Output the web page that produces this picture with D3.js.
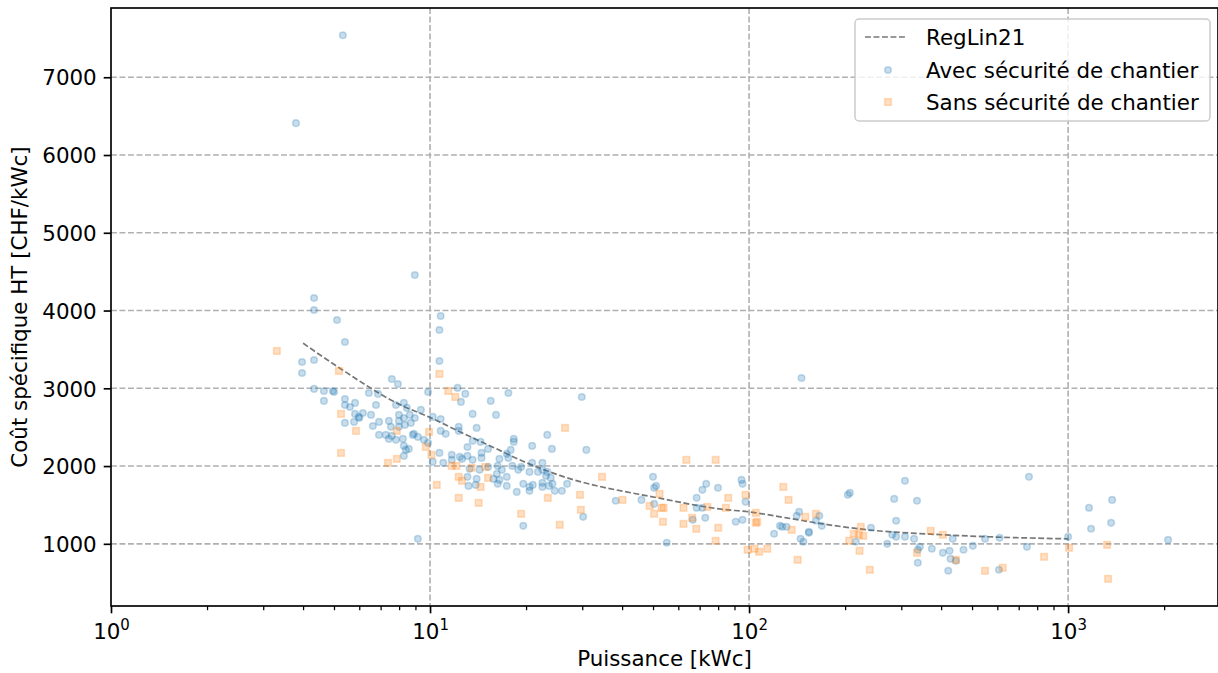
<!DOCTYPE html>
<html><head><meta charset="utf-8">
<script src="https://cdn.jsdelivr.net/npm/d3@7"></script>
<style>body{margin:0;background:#fff} svg text{font-family:"DejaVu Sans",sans-serif;fill:#000}</style>
</head><body><svg id="c" width="1218" height="673"></svg>
<script>
// Avec sécurité de chantier: [kWc, CHF/kWc]
const avecPts = [[3.8,6410],[3.97,3339],[3.97,3197],[4.33,4161],[4.33,4007],[4.33,3364],[4.33,2992],[4.65,2966],[4.65,2838],[4.96,2966],[5.0,2953],[5.11,3878],[5.33,7541],[5.41,3596],[5.41,2863],[5.41,2786],[5.41,2555],[5.61,2760],[5.82,2812],[5.82,2671],[5.98,2632],[6.16,2683],[5.78,2568],[6.0,2619],[6.43,2940],[6.53,2658],[6.62,2516],[6.77,2786],[6.87,2928],[6.92,2568],[6.92,2401],[7.27,2401],[7.43,2581],[7.43,2349],[7.54,2504],[7.59,3120],[7.59,2388],[7.82,2786],[7.82,2337],[7.93,3056],[7.99,2658],[7.99,2581],[7.99,2504],[8.28,2812],[8.28,2619],[8.34,2529],[8.22,2349],[8.28,2259],[8.40,2208],[8.58,2221],[8.28,2131],[8.46,2748],[8.64,2658],[8.71,2555],[8.83,2401],[8.9,2414],[8.96,4457],[8.96,2619],[9.16,2375],[9.16,1064],[9.36,2722],[9.57,2337],[9.86,2953],[9.86,2298],[10.2,2632],[10.2,2054],[10.8,3930],[10.7,3750],[10.7,3352],[10.8,2606],[10.8,2452],[11.2,2414],[10.7,2169],[11.0,2041],[11.7,2144],[11.7,2080],[12.2,3005],[12.9,2928],[12.5,2825],[12.3,2504],[12.3,2452],[12.4,2118],[12.6,2092],[13.1,2246],[13.1,2131],[13.1,1861],[13.2,1745],[13.3,1964],[13.6,2671],[13.6,2324],[13.6,2080],[13.9,1758],[14.0,2491],[14.0,1835],[14.3,1951],[14.4,2311],[14.5,2169],[14.5,2105],[15.2,2221],[15.2,1989],[15.5,2838],[15.8,1835],[16.1,2658],[16.2,1900],[16.3,2002],[16.3,1771],[16.5,2092],[16.5,1822],[16.8,1951],[17.4,2157],[17.4,1861],[17.4,1745],[17.6,2940],[17.6,2105],[17.9,2208],[18.1,2002],[18.3,2349],[18.3,2311],[18.7,1668],[18.9,1951],[19.3,1989],[19.6,1771],[19.6,1231],[20.5,1925],[20.5,1732],[20.5,1681],[20.9,2259],[20.9,2041],[21.0,1758],[21.8,1925],[22.5,2041],[22.5,1951],[22.5,1784],[22.5,1732],[23.1,1874],[23.3,2401],[23.3,1925],[23.6,1745],[24.1,2221],[23.9,1848],[24.2,1771],[24.6,1681],[25.9,1681],[26.9,1771],[29.9,2889],[30.9,2208],[30.2,1347],[38.2,1553],[46.0,1565],[50.0,1861],[50.4,1720],[51.1,1745],[50.4,1514],[55.2,1013],[68.5,1591],[68.5,1463],[66.6,1308],[71.4,1694],[73.4,1771],[72.9,1334],[71.4,1463],[79.9,1720],[90.8,1283],[95.4,1308],[94.7,1822],[95.4,1771],[97.5,1540],[119.8,1129],[125,1231],[131,1218],[127,1218],[141,1360],[143.5,1411],[145,1064],[148,1026],[146,3133],[154,1141],[154,1154],[162,1296],[166,1360],[169,1231],[204,1630],[207,1655],[216,1026],[241,1206],[271,1000],[281,1116],[289,1296],[289,1090],[285,1578],[308,1810],[308,1090],[329,1064],[336,1553],[338,923],[343,961],[338,756],[374,936],[405,884],[425,910],[435,1064],[428,807],[445,781],[421,653],[470,923],[503,974],[549,1064],[610,1077],[607,666],[743,961],[754,1861],[1000,1090],[1163,1463],[1180,1193],[1374,1565],[1364,1270],[2058,1051]];

// Sans sécurité de chantier: [kWc, CHF/kWc]
const sansPts = [[3.31,3480],[5.18,3223],[5.26,2671],[5.26,2169],[5.86,2452],[7.38,2041],[7.87,2092],[7.87,2452],[9.70,2246],[9.93,2439],[10.1,2144],[10.5,1758],[10.7,3185],[11.4,2966],[12.0,2889],[11.7,2002],[12.1,2002],[12.3,1861],[12.6,1810],[12.3,1591],[13.5,1977],[14.2,1527],[14.4,1732],[14.9,1989],[15.2,1848],[19.3,1386],[23.4,1591],[25.5,1244],[26.5,2491],[29.5,1630],[29.7,1437],[34.6,1861],[40.1,1565],[48.8,1488],[50.4,1386],[52.4,1643],[53.2,1463],[54,1463],[53.7,1283],[62.3,1463],[62.3,1257],[63.6,2080],[66.3,1334],[68.3,1193],[74.0,1475],[78.6,2080],[80,1206],[78.6,1039],[86,1591],[84.6,1463],[97.5,1630],[105,1398],[105,1270],[106,1283],[99,923],[104,936],[107.5,897],[114,936],[128,1732],[133,1565],[136,1180],[142,794],[150,1347],[162,1386],[224,1218],[213,1129],[221,1116],[228,1103],[206,1039],[222,910],[239,666],[336,884],[371,1167],[405,1116],[445,794],[549,653],[624,692],[841,833],[1007,949],[1325,987],[1335,550]];

// RegLin21 curve
const regX = [4.0,5.2,8.05,10.2,12.4,15.8,20.1,25.5,52.4,81.7,100,131,178,257,370,527,1000];
const regY = [3580,3262,2790,2610,2440,2240,2041,1880,1587,1446,1411,1334,1244,1165,1125,1095,1064];

const yTicks = [1000,2000,3000,4000,5000,6000,7000];
const xMajor = [1,10,100,1000];
const xExp = ["0","1","2","3"];
const xLimits = [1,2950];

const svg = d3.select("#c");
const L=111, T=8, R=1218, B=606;
const FS = 21.4;

const allY = avecPts.map(d=>d[1]).concat(sansPts.map(d=>d[1]));
const ymin = d3.min(allY), ymax = d3.max(allY), pad = 0.05*(ymax-ymin);
const x = d3.scaleLog().domain(xLimits).range([L,R]);
const y = d3.scaleLinear().domain([ymin-pad, ymax+pad]).range([B,T]);

// grid
const grid = svg.append("g").attr("stroke","#b0b0b0").attr("stroke-width",1.6).attr("stroke-dasharray","5.9,2.6").attr("fill","none");
grid.selectAll("line.h").data(yTicks).join("line").attr("x1",L).attr("x2",R).attr("y1",d=>y(d)).attr("y2",d=>y(d));
grid.selectAll("line.v").data(xMajor.filter(v=>v>1)).join("line").attr("y1",T).attr("y2",B).attr("x1",d=>x(d)).attr("x2",d=>x(d));

// regression line
const line = d3.line().x(d=>x(d[0])).y(d=>y(d[1])).curve(d3.curveMonotoneX);
svg.append("path").datum(regX.map((v,i)=>[v,regY[i]])).attr("d",line)
  .attr("fill","none").attr("stroke","#777").attr("stroke-width",1.7).attr("stroke-dasharray","5.9,2.6");

// scatter
const blue="#1f77b4", orange="#ff7f0e";
const r=3.3;
svg.append("g").selectAll("circle").data(avecPts).join("circle")
  .attr("cx",d=>x(d[0])).attr("cy",d=>y(d[1])).attr("r",r)
  .attr("fill",blue).attr("fill-opacity",0.25).attr("stroke",blue).attr("stroke-opacity",0.25).attr("stroke-width",1.5);
const s=6.6;
svg.append("g").selectAll("rect").data(sansPts).join("rect")
  .attr("x",d=>x(d[0])-s/2).attr("y",d=>y(d[1])-s/2).attr("width",s).attr("height",s)
  .attr("fill",orange).attr("fill-opacity",0.25).attr("stroke",orange).attr("stroke-opacity",0.25).attr("stroke-width",1.5);

// axes
const yAxis = d3.axisLeft(y).tickValues(yTicks).tickSize(7.3).tickPadding(7).tickFormat(d3.format("d"));
const gy = svg.append("g").attr("transform",`translate(${L},0)`).call(yAxis);
gy.select(".domain").remove();
gy.selectAll(".tick line").attr("stroke","#000").attr("stroke-width",1.67);
gy.selectAll(".tick text").attr("font-size",FS).attr("font-family","DejaVu Sans").attr("dy","0.36em");

const minor=[];
for (let e=0;e<4;e++) for (let k=2;k<10;k++){const v=k*Math.pow(10,e); if(v<=xLimits[1]) minor.push(v);}
const gxm = svg.append("g").attr("transform",`translate(0,${B})`).call(d3.axisBottom(x).tickValues(minor).tickSize(4.2).tickFormat(""));
gxm.select(".domain").remove();
gxm.selectAll(".tick line").attr("stroke","#000").attr("stroke-width",1.25);
const gx = svg.append("g").attr("transform",`translate(0,${B})`).call(d3.axisBottom(x).tickValues(xMajor).tickSize(7.3).tickFormat(""));
gx.select(".domain").remove();
gx.selectAll(".tick line").attr("stroke","#000").attr("stroke-width",1.67);
gx.selectAll(".tick").each(function(d,i){
  const t=d3.select(this).append("text").attr("y",33).attr("text-anchor","middle").attr("font-size",FS).attr("fill","#000").attr("font-family","DejaVu Sans");
  t.append("tspan").text("10");
  t.append("tspan").attr("font-size",FS*0.7).attr("dy",-8.7).text(xExp[i]);
});

// frame
svg.append("rect").attr("x",L).attr("y",T).attr("width",R-L).attr("height",B-T)
  .attr("fill","none").attr("stroke","#000").attr("stroke-width",1.67);

// labels
svg.append("text").attr("x",(L+R)/2).attr("y",666).attr("text-anchor","middle").attr("font-size",FS).text("Puissance [kWc]");
svg.append("text").attr("transform",`translate(27,${(T+B)/2}) rotate(-90)`).attr("text-anchor","middle").attr("font-size",FS).text("Coût spécifique HT [CHF/kWc]");

// legend
const lg = svg.append("g");
lg.append("rect").attr("x",855).attr("y",19).attr("width",355).attr("height",102).attr("rx",4)
  .attr("fill","#fff").attr("fill-opacity",0.8).attr("stroke","#cccccc").attr("stroke-width",1.5);
lg.append("line").attr("x1",865).attr("x2",907).attr("y1",37).attr("y2",37)
  .attr("stroke","#777").attr("stroke-width",1.7).attr("stroke-dasharray","5.9,2.6");
lg.append("circle").attr("cx",888).attr("cy",70).attr("r",r).attr("fill",blue).attr("fill-opacity",0.25).attr("stroke",blue).attr("stroke-opacity",0.25).attr("stroke-width",1.5);
lg.append("rect").attr("x",888-s/2).attr("y",102-s/2).attr("width",s).attr("height",s).attr("fill",orange).attr("fill-opacity",0.25).attr("stroke",orange).attr("stroke-opacity",0.25).attr("stroke-width",1.5);
const labels=["RegLin21","Avec sécurité de chantier","Sans sécurité de chantier"];
[37,70,102].forEach((yy,i)=>lg.append("text").attr("x",926).attr("y",yy+7.5).attr("font-size",FS).text(labels[i]));
</script></body></html>
